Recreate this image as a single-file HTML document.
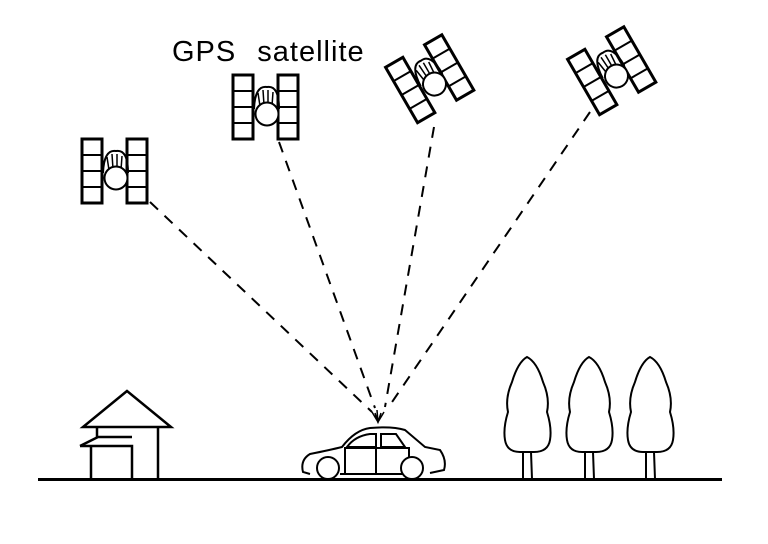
<!DOCTYPE html>
<html><head><style>body{margin:0;background:#fff}svg{display:block}</style></head><body>
<svg width="768" height="544" viewBox="0 0 768 544" xmlns="http://www.w3.org/2000/svg">
<defs>
<g id="sat" fill="none" stroke="#000">
  <rect x="-34" y="-32" width="20" height="64" stroke-width="3"/>
  <line x1="-34" y1="-16" x2="-14" y2="-16" stroke-width="2"/>
  <line x1="-34" y1="0" x2="-14" y2="0" stroke-width="2"/>
  <line x1="-34" y1="16" x2="-14" y2="16" stroke-width="2"/>
  <rect x="11" y="-32" width="20" height="64" stroke-width="3"/>
  <line x1="11" y1="-16" x2="31" y2="-16" stroke-width="2"/>
  <line x1="11" y1="0" x2="31" y2="0" stroke-width="2"/>
  <line x1="11" y1="16" x2="31" y2="16" stroke-width="2"/>
  <path d="M-13,2 Q-12,-22 0,-20 Q12,-22 12,2" stroke-width="2"/>
  <path d="M-7,-1 L-9,-14 M-3,-2 L-4,-17 M1,-2 L1,-17 M5,-1 L6,-15" stroke-width="1.5"/>
  <circle cx="0" cy="7" r="11.5" fill="#fff" stroke-width="2"/>
</g>
</defs>
<text x="172" y="61" font-family="Liberation Sans, sans-serif" font-size="29" word-spacing="12" letter-spacing="1" fill="#000">GPS satellite</text>
<use href="#sat" transform="translate(116,171)"/>
<use href="#sat" transform="translate(267,107)"/>
<use href="#sat" transform="translate(431,78) rotate(-30)"/>
<use href="#sat" transform="translate(613,70) rotate(-30)"/>
<g stroke="#000" stroke-width="2" stroke-dasharray="11,9" fill="none">
  <line x1="150" y1="202" x2="372" y2="412"/>
  <line x1="279" y1="142" x2="375" y2="408"/>
  <line x1="434" y1="127" x2="385" y2="407"/>
  <line x1="590" y1="112" x2="390" y2="405"/>
</g>
<path d="M377,410 L378,423 M372,412 L378,422 L384,412 M375,413 L378,422 L381,413" stroke="#000" stroke-width="1.5" fill="none"/>
<line x1="38" y1="479.5" x2="722" y2="479.5" stroke="#000" stroke-width="3"/>
<g fill="none" stroke="#000" stroke-width="2.5">
  <polygon points="127,391 83,427 171,427"/>
  <line x1="97" y1="427" x2="97" y2="438"/>
  <line x1="158" y1="427" x2="158" y2="479"/>
  <polyline points="80,446 132,446 132,479"/>
  <polyline points="80,446 98,437 132,437"/>
  <line x1="91" y1="446" x2="91" y2="479"/>
</g>
<g fill="none" stroke="#000" stroke-width="2">
  <path d="M310,474 L303,472 Q300,460 310,454 Q330,450 342,447 Q355,430 370,428 Q392,426 405,430 L425,447 L440,450 Q447,460 444,470 L430,473"/>
  <path d="M347,447 Q355,436 370,434 L376,434 L376,447 Z M381,434 L396,434 L405,447 L381,447 Z" />
  <rect x="345" y="448" width="64" height="26"/>
  <line x1="376" y1="434" x2="376" y2="474"/>
  <line x1="340" y1="474" x2="398" y2="474"/>
  <circle cx="328" cy="468" r="11" fill="#fff"/>
  <circle cx="412" cy="468" r="11" fill="#fff"/>
</g>
<g id="tree" fill="none" stroke="#000" stroke-width="2">
  <path d="M527,357 Q518,362 512,382 Q505,398 508,412 Q503,428 505,440 Q507,452 520,452 L534,452 Q548,452 550,440 Q552,428 547,412 Q550,398 543,382 Q537,362 527,357 Z"/>
  <path d="M523,452 L523,479 M531,452 L532,479"/>
</g>
<use href="#tree" transform="translate(62,0)"/>
<use href="#tree" transform="translate(123,0)"/>
</svg>
</body></html>
